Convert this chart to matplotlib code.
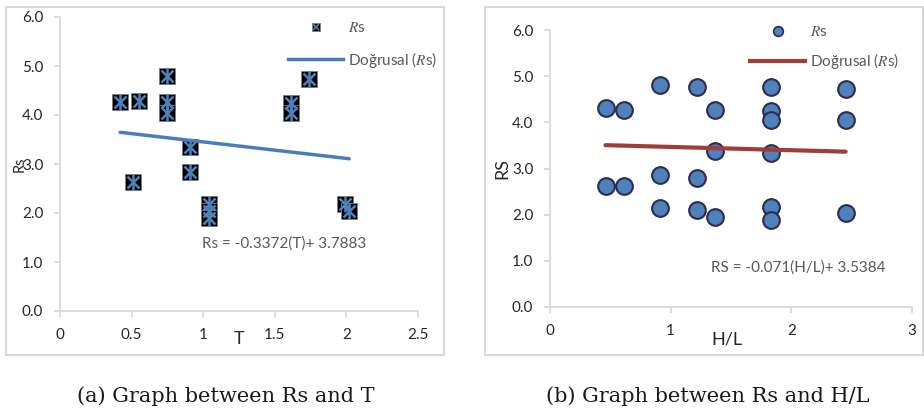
#!/usr/bin/env python3
import matplotlib
matplotlib.use("Agg")
import matplotlib.pyplot as plt
from matplotlib.lines import Line2D
from matplotlib.patches import Rectangle

plt.rcParams['font.family'] = ['Lato', 'DejaVu Sans']
plt.rcParams['mathtext.fontset'] = 'stix'

# (a) Rs against T
t_vals = [0.42, 0.55, 0.51, 0.75, 0.75, 0.75, 0.91, 0.91, 1.04, 1.04, 1.04,
          1.61, 1.61, 1.74, 1.99, 2.02]
rs_t = [4.27, 4.29, 2.64, 4.80, 4.27, 4.05, 3.35, 2.84, 2.19, 2.05, 1.90,
        4.24, 4.05, 4.74, 2.19, 2.05]
slope_t, icpt_t = -0.3372, 3.7883

# (b) Rs against H/L
hl_vals = [0.46, 0.46, 0.61, 0.61, 0.91, 0.91, 0.91, 1.22, 1.22, 1.22,
           1.37, 1.37, 1.37, 1.83, 1.83, 1.83, 1.83, 1.83, 1.83,
           2.45, 2.45, 2.45]
rs_hl = [4.32, 2.62, 4.27, 2.62, 4.81, 2.86, 2.15, 4.77, 2.80, 2.11,
         4.26, 3.38, 1.94, 4.76, 4.24, 4.06, 3.34, 2.17, 1.89,
         4.72, 4.06, 2.04]
slope_hl, icpt_hl = -0.071, 3.5384

BLUE = '#4f81bd'
RED = '#a03d3a'
GRID = '#d9d9d9'
TXT = '#262626'


def style_axes(ax, xmax, xstep):
    for s in ('top', 'right'):
        ax.spines[s].set_visible(False)
    for s in ('left', 'bottom'):
        ax.spines[s].set_color(GRID)
        ax.spines[s].set_linewidth(1.3)
    ax.set_ylim(0, 6)
    ax.set_xlim(0, xmax)
    ax.set_yticks([0, 1, 2, 3, 4, 5, 6])
    ax.set_yticklabels(['%.1f' % v for v in range(7)])
    ticks = [i * xstep for i in range(int(round(xmax / xstep)) + 1)]
    ax.set_xticks(ticks)
    ax.set_xticklabels(['%g' % v for v in ticks])
    ax.tick_params(colors=GRID, labelcolor=TXT, labelsize=11, length=4,
                   width=1.3, pad=8)


fig = plt.figure(figsize=(9.24, 4.13), dpi=100)

# panel frames
for x0 in (6 / 924, 485 / 924):
    fig.patches.append(Rectangle((x0, 1 - 355 / 413), 438 / 924, 348 / 413,
                                 transform=fig.transFigure, fill=False,
                                 edgecolor=GRID, linewidth=1.5))

# ---- left panel
ax1 = fig.add_axes([60 / 924, 1 - 311 / 413, 358 / 924, 294 / 413])
style_axes(ax1, 2.5, 0.5)
ax1.plot(t_vals, rs_t, 's', ms=11, mfc='black', mec='#808080', mew=0.6,
         zorder=3)
ax1.plot(t_vals, rs_t, 'x', ms=9, mec=BLUE, mew=1.8, zorder=4)
ax1.plot(t_vals, rs_t, '|', ms=11, mec=BLUE, mew=1.8, zorder=4)
tx = [min(t_vals), max(t_vals)]
ax1.plot(tx, [slope_t * x + icpt_t for x in tx], color='#4a7ebb', lw=2.5,
         solid_capstyle='round', zorder=5)
ax1.text(0.626, 0.231, 'Rs = -0.3372(T)+ 3.7883', transform=ax1.transAxes,
         ha='center', va='center', fontsize=11, color='#595959')
ax1.set_xlabel('T', fontsize=13, color=TXT)
ax1.xaxis.set_label_coords(0.5, -0.068)
ax1.set_ylabel('Rs', fontsize=10.5, color=TXT)
ax1.yaxis.set_label_coords(-0.092, 0.5)

sq = Line2D([], [], ls='none', marker='s', ms=6, mfc='black', mec='#808080',
            mew=0.5)
xx = Line2D([], [], ls='none', marker='x', ms=5, mec=BLUE, mew=1.2)
ln1 = Line2D([], [], color='#4a7ebb', lw=2.5)
ax1.legend([(sq, xx), ln1], [r'$R$s', r'Doğrusal ($R$s)'],
           loc='upper left', bbox_to_anchor=(288 / 924, 1 - 21 / 413),
           bbox_transform=fig.transFigure, frameon=False, fontsize=11,
           handlelength=3.6, handletextpad=0.35, labelspacing=0.95,
           borderpad=0, borderaxespad=0, labelcolor='#595959')

# ---- right panel
ax2 = fig.add_axes([550 / 924, 1 - 307 / 413, 362 / 924, 277 / 413])
style_axes(ax2, 3, 1)
ax2.plot(hl_vals, rs_hl, 'o', ms=12, mfc=BLUE, mec='#2e2b4e', mew=1.5,
         zorder=3)
hx = [min(hl_vals), max(hl_vals)]
ax2.plot(hx, [slope_hl * x + icpt_hl for x in hx], color=RED, lw=3,
         solid_capstyle='round', zorder=4)
ax2.text(0.685, 0.141, 'RS = -0.071(H/L)+ 3.5384', transform=ax2.transAxes,
         ha='center', va='center', fontsize=11, color='#595959')
ax2.set_xlabel('H/L', fontsize=13, color=TXT)
ax2.xaxis.set_label_coords(0.489, -0.088)
ax2.set_ylabel('RS', fontsize=13, color=TXT)
ax2.yaxis.set_label_coords(-0.11, 0.5)

dot = Line2D([], [], ls='none', marker='o', ms=7, mfc=BLUE, mec='#2e2b4e',
             mew=1.2)
ln2 = Line2D([], [], color=RED, lw=3)
ax2.legend([dot, ln2], [r'$R$s', r'Doğrusal ($R$s)'],
           loc='upper left', bbox_to_anchor=(750 / 924, 1 - 25 / 413),
           bbox_transform=fig.transFigure, frameon=False, fontsize=11,
           handlelength=3.6, handletextpad=0.35, labelspacing=0.8,
           borderpad=0, borderaxespad=0, labelcolor='#595959')

# captions
fig.text(226 / 924, 1 - 396 / 413, '(a) Graph between Rs and T',
         ha='center', va='center', fontsize=15, family='DejaVu Serif',
         color='#1a1a1a')
fig.text(708 / 924, 1 - 396 / 413, '(b) Graph between Rs and H/L',
         ha='center', va='center', fontsize=15, family='DejaVu Serif',
         color='#1a1a1a')

fig.savefig('out.png', dpi=100)
